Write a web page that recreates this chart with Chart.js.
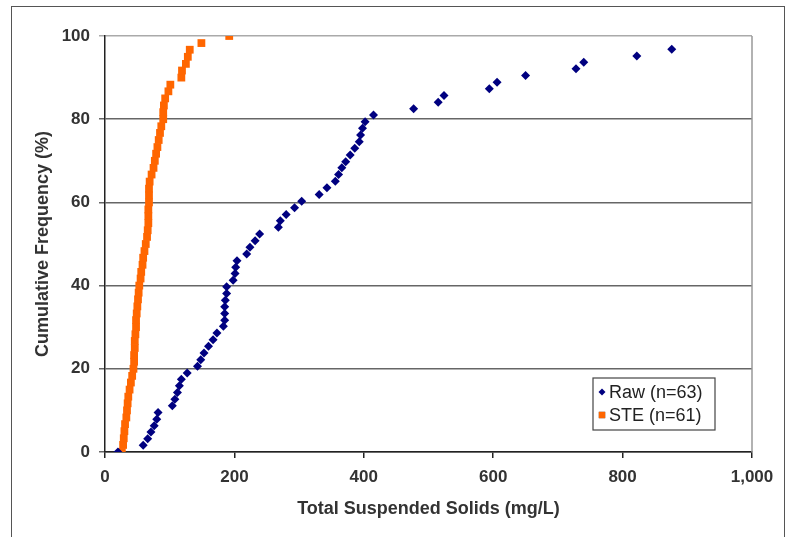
<!DOCTYPE html>
<html>
<head>
<meta charset="utf-8">
<script src="https://cdn.jsdelivr.net/npm/chart.js@4.4.0/dist/chart.umd.min.js"></script>
<style>
  html, body { margin: 0; padding: 0; background: #fff; }
  #wrap { position: relative; width: 802px; height: 537px; overflow: hidden; }
  #frame { position: absolute; left: 11px; top: 6px; width: 772px; height: 600px; border: 1.5px solid #555; }
  canvas { position: absolute; left: 0; top: 0; }
</style>
</head>
<body>
<div id="wrap">
  <div id="frame"></div>
  <canvas id="myChart" width="802" height="537"></canvas>
</div>
<script>
// Raw: 63 samples (last one lies beyond 1,000 mg/L)
const rawTss = [20, 59, 66, 71, 76, 80, 82, 104, 108, 112, 115, 118, 127, 143, 148, 153,
  160, 167, 173, 183, 185, 185, 185, 186, 188, 188, 198, 201, 202, 204, 219, 224,
  232, 239, 268, 271, 280, 293, 304, 331, 343, 356, 361, 366, 372, 379, 386, 393,
  395, 398, 402, 415, 477, 515, 524, 594, 606, 650, 728, 740, 822, 876]
const rawFreq = [0, 1.6, 3.2, 4.8, 6.3, 7.9, 9.5, 11.1, 12.7, 14.3, 15.9, 17.5, 19.0, 20.6, 22.2, 23.8,
  25.4, 27.0, 28.6, 30.2, 31.7, 33.3, 34.9, 36.5, 38.1, 39.7, 41.3, 42.9, 44.4, 46.0, 47.6, 49.2,
  50.8, 52.4, 54.0, 55.6, 57.1, 58.7, 60.3, 61.9, 63.5, 65.1, 66.7, 68.3, 69.8, 71.4, 73.0, 74.6,
  76.2, 77.8, 79.4, 81.0, 82.5, 84.1, 85.7, 87.3, 88.9, 90.5, 92.1, 93.7, 95.2, 96.8]

// STE: 61 samples
const steTss = [26, 28, 29, 30, 31, 33, 34, 35, 36, 38, 40, 42, 44, 45, 45, 46,
  46, 47, 48, 48, 49, 50, 51, 52, 53, 55, 56, 58, 59, 61, 63, 65,
  66, 67, 67, 67, 68, 68, 68, 69, 72, 75, 77, 79, 81, 83, 85, 87,
  90, 90, 91, 93, 98, 101, 118, 119, 125, 128, 131, 149, 192]
const steFreq = [0, 1.7, 3.3, 5, 6.7, 8.3, 10, 11.7, 13.3, 15, 16.7, 18.3, 20, 21.7, 23.3, 25,
  26.7, 28.3, 30, 31.7, 33.3, 35, 36.7, 38.3, 40, 41.7, 43.3, 45, 46.7, 48.3, 50, 51.7,
  53.3, 55, 56.7, 58.3, 60, 61.7, 63.3, 65, 66.7, 68.3, 70, 71.7, 73.3, 75, 76.7, 78.3,
  80, 81.7, 83.3, 85, 86.7, 88.3, 90, 91.7, 93.3, 95, 96.7, 98.3, 100]

const xTicks = [0, 200, 400, 600, 800, 1000]
const yTicks = [0, 20, 40, 60, 80, 100]

const toPoints = (xs, ys) => xs.map((x, i) => ({ x: x, y: ys[i] }))

const fontFamily = "'Liberation Sans', Arial, sans-serif"
const tickFont = { family: fontFamily, size: 17, weight: 'bold' }
const titleFont = { family: fontFamily, size: 18, weight: 'bold' }
const textColor = "#333"

// legend box drawn inside the plot, lower right
const boxLegend = {
  id: 'boxLegend',
  afterDraw(chart) {
    const { ctx, chartArea } = chart
    const left = chartArea.right - 159
    const top = chartArea.bottom - 74
    ctx.save()
    ctx.strokeStyle = "#444"
    ctx.lineWidth = 1.2
    ctx.fillStyle = "#fff"
    ctx.fillRect(left, top, 122, 52)
    ctx.strokeRect(left, top, 122, 52)
    ctx.font = "18px " + fontFamily
    ctx.textBaseline = "middle"
    chart.data.datasets.forEach((ds, i) => {
      const cy = top + 14 + i * 23
      Chart.helpers.drawPoint(ctx, {
        pointStyle: ds.pointStyle, radius: ds.pointStyle === 'rect' ? 4.5 : 3.5,
        borderWidth: 0, rotation: 0
      }, left + 9, cy)
      ctx.fillStyle = ds.backgroundColor
      ctx.fill()
      ctx.fillStyle = "#222"
      ctx.fillText(ds.label, left + 16, cy + 1)
    })
    // right edge of the plot area
    ctx.strokeStyle = "#999"
    ctx.lineWidth = 1.5
    ctx.beginPath()
    ctx.moveTo(chartArea.right, chartArea.top)
    ctx.lineTo(chartArea.right, chartArea.bottom)
    ctx.stroke()
    ctx.restore()
  }
}

const ctx = document.getElementById("myChart")
new Chart(ctx, {
  type: "scatter",
  data: {
    datasets: [
      {
        label: "Raw (n=63)",
        data: toPoints(rawTss, rawFreq),
        pointStyle: "rectRot",
        pointRadius: 4.5,
        pointHoverRadius: 4.5,
        borderWidth: 0,
        backgroundColor: "#000080",
        borderColor: "#000080",
      },
      {
        label: "STE (n=61)",
        data: toPoints(steTss, steFreq),
        pointStyle: "rect",
        pointRadius: 5.5,
        pointHoverRadius: 5.5,
        borderWidth: 0,
        backgroundColor: "#FF6600",
        borderColor: "#FF6600",
      },
    ],
  },
  options: {
    responsive: false,
    animation: false,
    layout: { padding: { left: 0, top: 36, right: 50, bottom: 0 } },
    plugins: {
      legend: { display: false },
      tooltip: { enabled: false },
    },
    scales: {
      x: {
        type: "linear",
        min: 0,
        max: 1000,
        afterBuildTicks: (scale) => { scale.ticks = xTicks.map(v => ({ value: v })) },
        afterFit: (scale) => { scale.height = 85 },
        ticks: {
          font: tickFont,
          color: textColor,
          padding: 9,
          callback: (v) => v.toLocaleString("en-US"),
        },
        grid: { drawOnChartArea: false, color: "#222", lineWidth: 1.5, tickLength: 6 },
        border: { color: "#222", width: 1.5 },
        title: {
          display: true,
          text: "Total Suspended Solids (mg/L)",
          font: titleFont,
          color: textColor,
          padding: { top: 0, bottom: 17 },
        },
      },
      y: {
        min: 0,
        max: 100,
        afterBuildTicks: (scale) => { scale.ticks = yTicks.map(v => ({ value: v })) },
        afterFit: (scale) => { scale.width = 105 },
        ticks: { font: tickFont, color: textColor, padding: 9 },
        grid: {
          color: (c) => (c.tick && c.tick.value === 100 ? "#aaa" : "#666"),
          lineWidth: 1.5,
          tickLength: 6,
        },
        border: { color: "#222", width: 1.5 },
        title: {
          display: true,
          text: "Cumulative Frequency (%)",
          font: titleFont,
          color: textColor,
          padding: { top: 32, bottom: 0 },
        },
      },
    },
  },
  plugins: [boxLegend],
});
</script>
</body>
</html>
